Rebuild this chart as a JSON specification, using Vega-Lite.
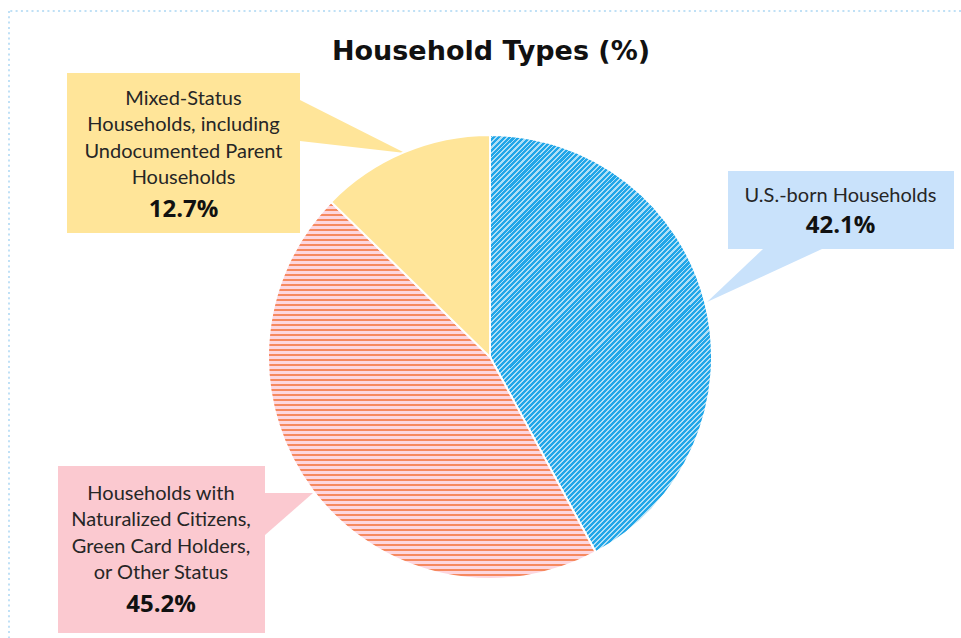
{
  "$schema": "https://vega.github.io/schema/vega-lite/v6.json",
  "width": 952,
  "height": 627,
  "autosize": {"type": "none"},
  "padding": {"left": 9, "top": 11, "right": 0, "bottom": 0},
  "background": "white",
  "title": {"text": "Household Types (%)", "font": "DejaVu Sans", "fontSize": 27, "fontWeight": "bold", "color": "#111111", "anchor": "middle", "frame": "group", "offset": -77, "baseline": "alphabetic", "dx": 6},
  "config": {"view": {"stroke": null}},
  "datasets": {
    "slices": [
      {"type": "U.S.-born Households", "order": 1, "pct": 42.1},
      {"type": "Households with Naturalized Citizens, Green Card Holders, or Other Status", "order": 2, "pct": 45.2},
      {"type": "Mixed-Status Households, including Undocumented Parent Households", "order": 3, "pct": 12.7}
    ],
    "boxes": [
      {"part": "us", "x": 238, "x2": 464, "y": 186, "y2": 108},
      {"part": "mixed", "x": -423, "x2": -190, "y": 284, "y2": 124},
      {"part": "nat", "x": -432, "x2": -225, "y": -109, "y2": -276}
    ],
    "pointers": [
      {"part": "us", "x": 217, "y": 55, "y2": 55},
      {"part": "us", "x": 273, "y": 108, "y2": 80.8},
      {"part": "us", "x": 332, "y": 108, "y2": 108},
      {"part": "mixed", "x": -190, "y": 257, "y2": 216},
      {"part": "mixed", "x": -85, "y": 204, "y2": 204},
      {"part": "nat", "x": -225, "y": -136, "y2": -178},
      {"part": "nat", "x": -177, "y": -136, "y2": -136}
    ],
    "labels": [
      {"text": "U.S.-born Households", "x": 350.5, "y": 155},
      {"text": "Mixed-Status\nHouseholds, including\nUndocumented Parent\nHouseholds", "x": -306.5, "y": 252},
      {"text": "Households with\nNaturalized Citizens,\nGreen Card Holders,\nor Other Status", "x": -329, "y": -143}
    ],
    "pcts": [
      {"text": "42.1%", "x": 350.5, "y": 124},
      {"text": "12.7%", "x": -306.5, "y": 140},
      {"text": "45.2%", "x": -329, "y": -255}
    ]
  },
  "layer": [
    {
      "data": {"values": [{}]},
      "mark": {"type": "rule", "stroke": "#bfe0f6", "strokeWidth": 2, "strokeDash": [2, 3.3]},
      "encoding": {"x": {"datum": -481, "type": "quantitative", "scale": {"domain": [-481, 471], "nice": false, "zero": false}, "axis": null}}
    },
    {
      "data": {"values": [{}]},
      "mark": {"type": "rule", "stroke": "#bfe0f6", "strokeWidth": 2, "strokeDash": [2, 3.3]},
      "encoding": {"y": {"datum": 346, "type": "quantitative", "scale": {"domain": [-281, 346], "nice": false, "zero": false}, "axis": null}}
    },
    {
      "data": {"name": "boxes"},
      "mark": {"type": "rect"},
      "encoding": {
        "x": {"field": "x", "type": "quantitative", "scale": {"domain": [-481, 471], "nice": false, "zero": false}, "axis": null},
        "x2": {"field": "x2"},
        "y": {"field": "y", "type": "quantitative", "scale": {"domain": [-281, 346], "nice": false, "zero": false}, "axis": null},
        "y2": {"field": "y2"},
        "color": {"field": "part", "type": "nominal", "scale": {"domain": ["us", "mixed", "nat"], "range": ["#c9e2fb", "#ffe599", "#fbc9d0"]}, "legend": null}
      }
    },
    {
      "data": {"name": "pointers"},
      "mark": {"type": "area", "orient": "vertical", "interpolate": "linear"},
      "encoding": {
        "x": {"field": "x", "type": "quantitative", "axis": null},
        "y": {"field": "y", "type": "quantitative", "stack": null, "axis": null},
        "y2": {"field": "y2"},
        "color": {"field": "part", "type": "nominal", "legend": null}
      }
    },
    {
      "data": {"name": "slices"},
      "transform": [
        {"stack": "pct", "groupby": [], "sort": [{"field": "order", "order": "ascending"}], "as": ["start", "end"]},
        {"filter": "datum.order == 1"}
      ],
      "mark": {"type": "arc", "outerRadius": 222, "stroke": "white", "strokeWidth": 2,
        "fill": {"gradient": "linear", "x1": 0, "y1": 0, "x2": 0.6353, "y2": 1.1941, "stops": [
{"offset":0,"color":"#afdff6"},
{"offset":0.0000,"color":"#21a6e8"},{"offset":0.0047,"color":"#21a6e8"},{"offset":0.0047,"color":"#afdff6"},
{"offset":0.0078,"color":"#afdff6"},{"offset":0.0078,"color":"#21a6e8"},{"offset":0.0125,"color":"#21a6e8"},{"offset":0.0125,"color":"#afdff6"},
{"offset":0.0156,"color":"#afdff6"},{"offset":0.0156,"color":"#21a6e8"},{"offset":0.0203,"color":"#21a6e8"},{"offset":0.0203,"color":"#afdff6"},
{"offset":0.0235,"color":"#afdff6"},{"offset":0.0235,"color":"#21a6e8"},{"offset":0.0282,"color":"#21a6e8"},{"offset":0.0282,"color":"#afdff6"},
{"offset":0.0313,"color":"#afdff6"},{"offset":0.0313,"color":"#21a6e8"},{"offset":0.0360,"color":"#21a6e8"},{"offset":0.0360,"color":"#afdff6"},
{"offset":0.0391,"color":"#afdff6"},{"offset":0.0391,"color":"#21a6e8"},{"offset":0.0438,"color":"#21a6e8"},{"offset":0.0438,"color":"#afdff6"},
{"offset":0.0469,"color":"#afdff6"},{"offset":0.0469,"color":"#21a6e8"},{"offset":0.0516,"color":"#21a6e8"},{"offset":0.0516,"color":"#afdff6"},
{"offset":0.0547,"color":"#afdff6"},{"offset":0.0547,"color":"#21a6e8"},{"offset":0.0594,"color":"#21a6e8"},{"offset":0.0594,"color":"#afdff6"},
{"offset":0.0626,"color":"#afdff6"},{"offset":0.0626,"color":"#21a6e8"},{"offset":0.0673,"color":"#21a6e8"},{"offset":0.0673,"color":"#afdff6"},
{"offset":0.0704,"color":"#afdff6"},{"offset":0.0704,"color":"#21a6e8"},{"offset":0.0751,"color":"#21a6e8"},{"offset":0.0751,"color":"#afdff6"},
{"offset":0.0782,"color":"#afdff6"},{"offset":0.0782,"color":"#21a6e8"},{"offset":0.0829,"color":"#21a6e8"},{"offset":0.0829,"color":"#afdff6"},
{"offset":0.0860,"color":"#afdff6"},{"offset":0.0860,"color":"#21a6e8"},{"offset":0.0907,"color":"#21a6e8"},{"offset":0.0907,"color":"#afdff6"},
{"offset":0.0939,"color":"#afdff6"},{"offset":0.0939,"color":"#21a6e8"},{"offset":0.0986,"color":"#21a6e8"},{"offset":0.0986,"color":"#afdff6"},
{"offset":0.1017,"color":"#afdff6"},{"offset":0.1017,"color":"#21a6e8"},{"offset":0.1064,"color":"#21a6e8"},{"offset":0.1064,"color":"#afdff6"},
{"offset":0.1095,"color":"#afdff6"},{"offset":0.1095,"color":"#21a6e8"},{"offset":0.1142,"color":"#21a6e8"},{"offset":0.1142,"color":"#afdff6"},
{"offset":0.1173,"color":"#afdff6"},{"offset":0.1173,"color":"#21a6e8"},{"offset":0.1220,"color":"#21a6e8"},{"offset":0.1220,"color":"#afdff6"},
{"offset":0.1251,"color":"#afdff6"},{"offset":0.1251,"color":"#21a6e8"},{"offset":0.1298,"color":"#21a6e8"},{"offset":0.1298,"color":"#afdff6"},
{"offset":0.1330,"color":"#afdff6"},{"offset":0.1330,"color":"#21a6e8"},{"offset":0.1377,"color":"#21a6e8"},{"offset":0.1377,"color":"#afdff6"},
{"offset":0.1408,"color":"#afdff6"},{"offset":0.1408,"color":"#21a6e8"},{"offset":0.1455,"color":"#21a6e8"},{"offset":0.1455,"color":"#afdff6"},
{"offset":0.1486,"color":"#afdff6"},{"offset":0.1486,"color":"#21a6e8"},{"offset":0.1533,"color":"#21a6e8"},{"offset":0.1533,"color":"#afdff6"},
{"offset":0.1564,"color":"#afdff6"},{"offset":0.1564,"color":"#21a6e8"},{"offset":0.1611,"color":"#21a6e8"},{"offset":0.1611,"color":"#afdff6"},
{"offset":0.1642,"color":"#afdff6"},{"offset":0.1642,"color":"#21a6e8"},{"offset":0.1689,"color":"#21a6e8"},{"offset":0.1689,"color":"#afdff6"},
{"offset":0.1721,"color":"#afdff6"},{"offset":0.1721,"color":"#21a6e8"},{"offset":0.1768,"color":"#21a6e8"},{"offset":0.1768,"color":"#afdff6"},
{"offset":0.1799,"color":"#afdff6"},{"offset":0.1799,"color":"#21a6e8"},{"offset":0.1846,"color":"#21a6e8"},{"offset":0.1846,"color":"#afdff6"},
{"offset":0.1877,"color":"#afdff6"},{"offset":0.1877,"color":"#21a6e8"},{"offset":0.1924,"color":"#21a6e8"},{"offset":0.1924,"color":"#afdff6"},
{"offset":0.1955,"color":"#afdff6"},{"offset":0.1955,"color":"#21a6e8"},{"offset":0.2002,"color":"#21a6e8"},{"offset":0.2002,"color":"#afdff6"},
{"offset":0.2033,"color":"#afdff6"},{"offset":0.2033,"color":"#21a6e8"},{"offset":0.2080,"color":"#21a6e8"},{"offset":0.2080,"color":"#afdff6"},
{"offset":0.2112,"color":"#afdff6"},{"offset":0.2112,"color":"#21a6e8"},{"offset":0.2159,"color":"#21a6e8"},{"offset":0.2159,"color":"#afdff6"},
{"offset":0.2190,"color":"#afdff6"},{"offset":0.2190,"color":"#21a6e8"},{"offset":0.2237,"color":"#21a6e8"},{"offset":0.2237,"color":"#afdff6"},
{"offset":0.2268,"color":"#afdff6"},{"offset":0.2268,"color":"#21a6e8"},{"offset":0.2315,"color":"#21a6e8"},{"offset":0.2315,"color":"#afdff6"},
{"offset":0.2346,"color":"#afdff6"},{"offset":0.2346,"color":"#21a6e8"},{"offset":0.2393,"color":"#21a6e8"},{"offset":0.2393,"color":"#afdff6"},
{"offset":0.2425,"color":"#afdff6"},{"offset":0.2425,"color":"#21a6e8"},{"offset":0.2472,"color":"#21a6e8"},{"offset":0.2472,"color":"#afdff6"},
{"offset":0.2503,"color":"#afdff6"},{"offset":0.2503,"color":"#21a6e8"},{"offset":0.2550,"color":"#21a6e8"},{"offset":0.2550,"color":"#afdff6"},
{"offset":0.2581,"color":"#afdff6"},{"offset":0.2581,"color":"#21a6e8"},{"offset":0.2628,"color":"#21a6e8"},{"offset":0.2628,"color":"#afdff6"},
{"offset":0.2659,"color":"#afdff6"},{"offset":0.2659,"color":"#21a6e8"},{"offset":0.2706,"color":"#21a6e8"},{"offset":0.2706,"color":"#afdff6"},
{"offset":0.2737,"color":"#afdff6"},{"offset":0.2737,"color":"#21a6e8"},{"offset":0.2784,"color":"#21a6e8"},{"offset":0.2784,"color":"#afdff6"},
{"offset":0.2816,"color":"#afdff6"},{"offset":0.2816,"color":"#21a6e8"},{"offset":0.2863,"color":"#21a6e8"},{"offset":0.2863,"color":"#afdff6"},
{"offset":0.2894,"color":"#afdff6"},{"offset":0.2894,"color":"#21a6e8"},{"offset":0.2941,"color":"#21a6e8"},{"offset":0.2941,"color":"#afdff6"},
{"offset":0.2972,"color":"#afdff6"},{"offset":0.2972,"color":"#21a6e8"},{"offset":0.3019,"color":"#21a6e8"},{"offset":0.3019,"color":"#afdff6"},
{"offset":0.3050,"color":"#afdff6"},{"offset":0.3050,"color":"#21a6e8"},{"offset":0.3097,"color":"#21a6e8"},{"offset":0.3097,"color":"#afdff6"},
{"offset":0.3128,"color":"#afdff6"},{"offset":0.3128,"color":"#21a6e8"},{"offset":0.3175,"color":"#21a6e8"},{"offset":0.3175,"color":"#afdff6"},
{"offset":0.3207,"color":"#afdff6"},{"offset":0.3207,"color":"#21a6e8"},{"offset":0.3254,"color":"#21a6e8"},{"offset":0.3254,"color":"#afdff6"},
{"offset":0.3285,"color":"#afdff6"},{"offset":0.3285,"color":"#21a6e8"},{"offset":0.3332,"color":"#21a6e8"},{"offset":0.3332,"color":"#afdff6"},
{"offset":0.3363,"color":"#afdff6"},{"offset":0.3363,"color":"#21a6e8"},{"offset":0.3410,"color":"#21a6e8"},{"offset":0.3410,"color":"#afdff6"},
{"offset":0.3441,"color":"#afdff6"},{"offset":0.3441,"color":"#21a6e8"},{"offset":0.3488,"color":"#21a6e8"},{"offset":0.3488,"color":"#afdff6"},
{"offset":0.3519,"color":"#afdff6"},{"offset":0.3519,"color":"#21a6e8"},{"offset":0.3566,"color":"#21a6e8"},{"offset":0.3566,"color":"#afdff6"},
{"offset":0.3598,"color":"#afdff6"},{"offset":0.3598,"color":"#21a6e8"},{"offset":0.3645,"color":"#21a6e8"},{"offset":0.3645,"color":"#afdff6"},
{"offset":0.3676,"color":"#afdff6"},{"offset":0.3676,"color":"#21a6e8"},{"offset":0.3723,"color":"#21a6e8"},{"offset":0.3723,"color":"#afdff6"},
{"offset":0.3754,"color":"#afdff6"},{"offset":0.3754,"color":"#21a6e8"},{"offset":0.3801,"color":"#21a6e8"},{"offset":0.3801,"color":"#afdff6"},
{"offset":0.3832,"color":"#afdff6"},{"offset":0.3832,"color":"#21a6e8"},{"offset":0.3879,"color":"#21a6e8"},{"offset":0.3879,"color":"#afdff6"},
{"offset":0.3911,"color":"#afdff6"},{"offset":0.3911,"color":"#21a6e8"},{"offset":0.3958,"color":"#21a6e8"},{"offset":0.3958,"color":"#afdff6"},
{"offset":0.3989,"color":"#afdff6"},{"offset":0.3989,"color":"#21a6e8"},{"offset":0.4036,"color":"#21a6e8"},{"offset":0.4036,"color":"#afdff6"},
{"offset":0.4067,"color":"#afdff6"},{"offset":0.4067,"color":"#21a6e8"},{"offset":0.4114,"color":"#21a6e8"},{"offset":0.4114,"color":"#afdff6"},
{"offset":0.4145,"color":"#afdff6"},{"offset":0.4145,"color":"#21a6e8"},{"offset":0.4192,"color":"#21a6e8"},{"offset":0.4192,"color":"#afdff6"},
{"offset":0.4223,"color":"#afdff6"},{"offset":0.4223,"color":"#21a6e8"},{"offset":0.4270,"color":"#21a6e8"},{"offset":0.4270,"color":"#afdff6"},
{"offset":0.4302,"color":"#afdff6"},{"offset":0.4302,"color":"#21a6e8"},{"offset":0.4349,"color":"#21a6e8"},{"offset":0.4349,"color":"#afdff6"},
{"offset":0.4380,"color":"#afdff6"},{"offset":0.4380,"color":"#21a6e8"},{"offset":0.4427,"color":"#21a6e8"},{"offset":0.4427,"color":"#afdff6"},
{"offset":0.4458,"color":"#afdff6"},{"offset":0.4458,"color":"#21a6e8"},{"offset":0.4505,"color":"#21a6e8"},{"offset":0.4505,"color":"#afdff6"},
{"offset":0.4536,"color":"#afdff6"},{"offset":0.4536,"color":"#21a6e8"},{"offset":0.4583,"color":"#21a6e8"},{"offset":0.4583,"color":"#afdff6"},
{"offset":0.4614,"color":"#afdff6"},{"offset":0.4614,"color":"#21a6e8"},{"offset":0.4661,"color":"#21a6e8"},{"offset":0.4661,"color":"#afdff6"},
{"offset":0.4693,"color":"#afdff6"},{"offset":0.4693,"color":"#21a6e8"},{"offset":0.4740,"color":"#21a6e8"},{"offset":0.4740,"color":"#afdff6"},
{"offset":0.4771,"color":"#afdff6"},{"offset":0.4771,"color":"#21a6e8"},{"offset":0.4818,"color":"#21a6e8"},{"offset":0.4818,"color":"#afdff6"},
{"offset":0.4849,"color":"#afdff6"},{"offset":0.4849,"color":"#21a6e8"},{"offset":0.4896,"color":"#21a6e8"},{"offset":0.4896,"color":"#afdff6"},
{"offset":0.4927,"color":"#afdff6"},{"offset":0.4927,"color":"#21a6e8"},{"offset":0.4974,"color":"#21a6e8"},{"offset":0.4974,"color":"#afdff6"},
{"offset":0.5006,"color":"#afdff6"},{"offset":0.5006,"color":"#21a6e8"},{"offset":0.5053,"color":"#21a6e8"},{"offset":0.5053,"color":"#afdff6"},
{"offset":0.5084,"color":"#afdff6"},{"offset":0.5084,"color":"#21a6e8"},{"offset":0.5131,"color":"#21a6e8"},{"offset":0.5131,"color":"#afdff6"},
{"offset":0.5162,"color":"#afdff6"},{"offset":0.5162,"color":"#21a6e8"},{"offset":0.5209,"color":"#21a6e8"},{"offset":0.5209,"color":"#afdff6"},
{"offset":0.5240,"color":"#afdff6"},{"offset":0.5240,"color":"#21a6e8"},{"offset":0.5287,"color":"#21a6e8"},{"offset":0.5287,"color":"#afdff6"},
{"offset":0.5318,"color":"#afdff6"},{"offset":0.5318,"color":"#21a6e8"},{"offset":0.5365,"color":"#21a6e8"},{"offset":0.5365,"color":"#afdff6"},
{"offset":0.5397,"color":"#afdff6"},{"offset":0.5397,"color":"#21a6e8"},{"offset":0.5444,"color":"#21a6e8"},{"offset":0.5444,"color":"#afdff6"},
{"offset":0.5475,"color":"#afdff6"},{"offset":0.5475,"color":"#21a6e8"},{"offset":0.5522,"color":"#21a6e8"},{"offset":0.5522,"color":"#afdff6"},
{"offset":0.5553,"color":"#afdff6"},{"offset":0.5553,"color":"#21a6e8"},{"offset":0.5600,"color":"#21a6e8"},{"offset":0.5600,"color":"#afdff6"},
{"offset":0.5631,"color":"#afdff6"},{"offset":0.5631,"color":"#21a6e8"},{"offset":0.5678,"color":"#21a6e8"},{"offset":0.5678,"color":"#afdff6"},
{"offset":0.5709,"color":"#afdff6"},{"offset":0.5709,"color":"#21a6e8"},{"offset":0.5756,"color":"#21a6e8"},{"offset":0.5756,"color":"#afdff6"},
{"offset":0.5788,"color":"#afdff6"},{"offset":0.5788,"color":"#21a6e8"},{"offset":0.5835,"color":"#21a6e8"},{"offset":0.5835,"color":"#afdff6"},
{"offset":0.5866,"color":"#afdff6"},{"offset":0.5866,"color":"#21a6e8"},{"offset":0.5913,"color":"#21a6e8"},{"offset":0.5913,"color":"#afdff6"},
{"offset":0.5944,"color":"#afdff6"},{"offset":0.5944,"color":"#21a6e8"},{"offset":0.5991,"color":"#21a6e8"},{"offset":0.5991,"color":"#afdff6"},
{"offset":0.6022,"color":"#afdff6"},{"offset":0.6022,"color":"#21a6e8"},{"offset":0.6069,"color":"#21a6e8"},{"offset":0.6069,"color":"#afdff6"},
{"offset":0.6100,"color":"#afdff6"},{"offset":0.6100,"color":"#21a6e8"},{"offset":0.6147,"color":"#21a6e8"},{"offset":0.6147,"color":"#afdff6"},
{"offset":0.6179,"color":"#afdff6"},{"offset":0.6179,"color":"#21a6e8"},{"offset":0.6226,"color":"#21a6e8"},{"offset":0.6226,"color":"#afdff6"},
{"offset":0.6257,"color":"#afdff6"},{"offset":0.6257,"color":"#21a6e8"},{"offset":0.6304,"color":"#21a6e8"},{"offset":0.6304,"color":"#afdff6"},
{"offset":0.6335,"color":"#afdff6"},{"offset":0.6335,"color":"#21a6e8"},{"offset":0.6382,"color":"#21a6e8"},{"offset":0.6382,"color":"#afdff6"},
{"offset":0.6413,"color":"#afdff6"},{"offset":0.6413,"color":"#21a6e8"},{"offset":0.6460,"color":"#21a6e8"},{"offset":0.6460,"color":"#afdff6"},
{"offset":0.6492,"color":"#afdff6"},{"offset":0.6492,"color":"#21a6e8"},{"offset":0.6539,"color":"#21a6e8"},{"offset":0.6539,"color":"#afdff6"},
{"offset":0.6570,"color":"#afdff6"},{"offset":0.6570,"color":"#21a6e8"},{"offset":0.6617,"color":"#21a6e8"},{"offset":0.6617,"color":"#afdff6"},
{"offset":0.6648,"color":"#afdff6"},{"offset":0.6648,"color":"#21a6e8"},{"offset":0.6695,"color":"#21a6e8"},{"offset":0.6695,"color":"#afdff6"},
{"offset":0.6726,"color":"#afdff6"},{"offset":0.6726,"color":"#21a6e8"},{"offset":0.6773,"color":"#21a6e8"},{"offset":0.6773,"color":"#afdff6"},
{"offset":0.6804,"color":"#afdff6"},{"offset":0.6804,"color":"#21a6e8"},{"offset":0.6851,"color":"#21a6e8"},{"offset":0.6851,"color":"#afdff6"},
{"offset":0.6883,"color":"#afdff6"},{"offset":0.6883,"color":"#21a6e8"},{"offset":0.6930,"color":"#21a6e8"},{"offset":0.6930,"color":"#afdff6"},
{"offset":0.6961,"color":"#afdff6"},{"offset":0.6961,"color":"#21a6e8"},{"offset":0.7008,"color":"#21a6e8"},{"offset":0.7008,"color":"#afdff6"},
{"offset":0.7039,"color":"#afdff6"},{"offset":0.7039,"color":"#21a6e8"},{"offset":0.7086,"color":"#21a6e8"},{"offset":0.7086,"color":"#afdff6"},
{"offset":0.7117,"color":"#afdff6"},{"offset":0.7117,"color":"#21a6e8"},{"offset":0.7164,"color":"#21a6e8"},{"offset":0.7164,"color":"#afdff6"},
{"offset":0.7195,"color":"#afdff6"},{"offset":0.7195,"color":"#21a6e8"},{"offset":0.7242,"color":"#21a6e8"},{"offset":0.7242,"color":"#afdff6"},
{"offset":0.7274,"color":"#afdff6"},{"offset":0.7274,"color":"#21a6e8"},{"offset":0.7321,"color":"#21a6e8"},{"offset":0.7321,"color":"#afdff6"},
{"offset":0.7352,"color":"#afdff6"},{"offset":0.7352,"color":"#21a6e8"},{"offset":0.7399,"color":"#21a6e8"},{"offset":0.7399,"color":"#afdff6"},
{"offset":0.7430,"color":"#afdff6"},{"offset":0.7430,"color":"#21a6e8"},{"offset":0.7477,"color":"#21a6e8"},{"offset":0.7477,"color":"#afdff6"},
{"offset":0.7508,"color":"#afdff6"},{"offset":0.7508,"color":"#21a6e8"},{"offset":0.7555,"color":"#21a6e8"},{"offset":0.7555,"color":"#afdff6"},
{"offset":0.7586,"color":"#afdff6"},{"offset":0.7586,"color":"#21a6e8"},{"offset":0.7633,"color":"#21a6e8"},{"offset":0.7633,"color":"#afdff6"},
{"offset":0.7665,"color":"#afdff6"},{"offset":0.7665,"color":"#21a6e8"},{"offset":0.7712,"color":"#21a6e8"},{"offset":0.7712,"color":"#afdff6"},
{"offset":0.7743,"color":"#afdff6"},{"offset":0.7743,"color":"#21a6e8"},{"offset":0.7790,"color":"#21a6e8"},{"offset":0.7790,"color":"#afdff6"},
{"offset":0.7821,"color":"#afdff6"},{"offset":0.7821,"color":"#21a6e8"},{"offset":0.7868,"color":"#21a6e8"},{"offset":0.7868,"color":"#afdff6"},
{"offset":0.7899,"color":"#afdff6"},{"offset":0.7899,"color":"#21a6e8"},{"offset":0.7946,"color":"#21a6e8"},{"offset":0.7946,"color":"#afdff6"},
{"offset":0.7978,"color":"#afdff6"},{"offset":0.7978,"color":"#21a6e8"},{"offset":0.8025,"color":"#21a6e8"},{"offset":0.8025,"color":"#afdff6"},
{"offset":0.8056,"color":"#afdff6"},{"offset":0.8056,"color":"#21a6e8"},{"offset":0.8103,"color":"#21a6e8"},{"offset":0.8103,"color":"#afdff6"},
{"offset":0.8134,"color":"#afdff6"},{"offset":0.8134,"color":"#21a6e8"},{"offset":0.8181,"color":"#21a6e8"},{"offset":0.8181,"color":"#afdff6"},
{"offset":0.8212,"color":"#afdff6"},{"offset":0.8212,"color":"#21a6e8"},{"offset":0.8259,"color":"#21a6e8"},{"offset":0.8259,"color":"#afdff6"},
{"offset":0.8290,"color":"#afdff6"},{"offset":0.8290,"color":"#21a6e8"},{"offset":0.8337,"color":"#21a6e8"},{"offset":0.8337,"color":"#afdff6"},
{"offset":0.8369,"color":"#afdff6"},{"offset":0.8369,"color":"#21a6e8"},{"offset":0.8416,"color":"#21a6e8"},{"offset":0.8416,"color":"#afdff6"},
{"offset":0.8447,"color":"#afdff6"},{"offset":0.8447,"color":"#21a6e8"},{"offset":0.8494,"color":"#21a6e8"},{"offset":0.8494,"color":"#afdff6"},
{"offset":0.8525,"color":"#afdff6"},{"offset":0.8525,"color":"#21a6e8"},{"offset":0.8572,"color":"#21a6e8"},{"offset":0.8572,"color":"#afdff6"},
{"offset":0.8603,"color":"#afdff6"},{"offset":0.8603,"color":"#21a6e8"},{"offset":0.8650,"color":"#21a6e8"},{"offset":0.8650,"color":"#afdff6"},
{"offset":0.8681,"color":"#afdff6"},{"offset":0.8681,"color":"#21a6e8"},{"offset":0.8728,"color":"#21a6e8"},{"offset":0.8728,"color":"#afdff6"},
{"offset":0.8760,"color":"#afdff6"},{"offset":0.8760,"color":"#21a6e8"},{"offset":0.8807,"color":"#21a6e8"},{"offset":0.8807,"color":"#afdff6"},
{"offset":0.8838,"color":"#afdff6"},{"offset":0.8838,"color":"#21a6e8"},{"offset":0.8885,"color":"#21a6e8"},{"offset":0.8885,"color":"#afdff6"},
{"offset":0.8916,"color":"#afdff6"},{"offset":0.8916,"color":"#21a6e8"},{"offset":0.8963,"color":"#21a6e8"},{"offset":0.8963,"color":"#afdff6"},
{"offset":0.8994,"color":"#afdff6"},{"offset":0.8994,"color":"#21a6e8"},{"offset":0.9041,"color":"#21a6e8"},{"offset":0.9041,"color":"#afdff6"},
{"offset":0.9072,"color":"#afdff6"},{"offset":0.9072,"color":"#21a6e8"},{"offset":0.9119,"color":"#21a6e8"},{"offset":0.9119,"color":"#afdff6"},
{"offset":0.9151,"color":"#afdff6"},{"offset":0.9151,"color":"#21a6e8"},{"offset":0.9198,"color":"#21a6e8"},{"offset":0.9198,"color":"#afdff6"},
{"offset":0.9229,"color":"#afdff6"},{"offset":0.9229,"color":"#21a6e8"},{"offset":0.9276,"color":"#21a6e8"},{"offset":0.9276,"color":"#afdff6"},
{"offset":0.9307,"color":"#afdff6"},{"offset":0.9307,"color":"#21a6e8"},{"offset":0.9354,"color":"#21a6e8"},{"offset":0.9354,"color":"#afdff6"},
{"offset":0.9385,"color":"#afdff6"},{"offset":0.9385,"color":"#21a6e8"},{"offset":0.9432,"color":"#21a6e8"},{"offset":0.9432,"color":"#afdff6"},
{"offset":0.9464,"color":"#afdff6"},{"offset":0.9464,"color":"#21a6e8"},{"offset":0.9511,"color":"#21a6e8"},{"offset":0.9511,"color":"#afdff6"},
{"offset":0.9542,"color":"#afdff6"},{"offset":0.9542,"color":"#21a6e8"},{"offset":0.9589,"color":"#21a6e8"},{"offset":0.9589,"color":"#afdff6"},
{"offset":0.9620,"color":"#afdff6"},{"offset":0.9620,"color":"#21a6e8"},{"offset":0.9667,"color":"#21a6e8"},{"offset":0.9667,"color":"#afdff6"},
{"offset":0.9698,"color":"#afdff6"},{"offset":0.9698,"color":"#21a6e8"},{"offset":0.9745,"color":"#21a6e8"},{"offset":0.9745,"color":"#afdff6"},
{"offset":0.9776,"color":"#afdff6"},{"offset":0.9776,"color":"#21a6e8"},{"offset":0.9823,"color":"#21a6e8"},{"offset":0.9823,"color":"#afdff6"},
{"offset":0.9855,"color":"#afdff6"},{"offset":0.9855,"color":"#21a6e8"},{"offset":0.9902,"color":"#21a6e8"},{"offset":0.9902,"color":"#afdff6"},
{"offset":0.9933,"color":"#afdff6"},{"offset":0.9933,"color":"#21a6e8"},{"offset":0.9980,"color":"#21a6e8"},{"offset":0.9980,"color":"#afdff6"},
{"offset":1,"color":"#afdff6"}
        ]}},
      "encoding": {
        "theta": {"field": "start", "type": "quantitative", "scale": {"domain": [0, 100]}},
        "theta2": {"field": "end"},
        "x": {"datum": 0, "type": "quantitative"},
        "y": {"datum": 0, "type": "quantitative"}
      }
    },
    {
      "data": {"name": "slices"},
      "transform": [
        {"stack": "pct", "groupby": [], "sort": [{"field": "order", "order": "ascending"}], "as": ["start", "end"]},
        {"filter": "datum.order == 2"}
      ],
      "mark": {"type": "arc", "outerRadius": 222, "stroke": "white", "strokeWidth": 2,
        "fill": {"gradient": "linear", "x1": 0, "y1": 0, "x2": 0, "y2": 1, "stops": [
{"offset":0,"color":"#fdd6de"},
{"offset":0.0061,"color":"#fdd6de"},{"offset":0.0061,"color":"#f6895f"},{"offset":0.0103,"color":"#f6895f"},{"offset":0.0103,"color":"#fdd6de"},
{"offset":0.0194,"color":"#fdd6de"},{"offset":0.0194,"color":"#f6895f"},{"offset":0.0236,"color":"#f6895f"},{"offset":0.0236,"color":"#fdd6de"},
{"offset":0.0326,"color":"#fdd6de"},{"offset":0.0326,"color":"#f6895f"},{"offset":0.0369,"color":"#f6895f"},{"offset":0.0369,"color":"#fdd6de"},
{"offset":0.0459,"color":"#fdd6de"},{"offset":0.0459,"color":"#f6895f"},{"offset":0.0501,"color":"#f6895f"},{"offset":0.0501,"color":"#fdd6de"},
{"offset":0.0592,"color":"#fdd6de"},{"offset":0.0592,"color":"#f6895f"},{"offset":0.0634,"color":"#f6895f"},{"offset":0.0634,"color":"#fdd6de"},
{"offset":0.0724,"color":"#fdd6de"},{"offset":0.0724,"color":"#f6895f"},{"offset":0.0767,"color":"#f6895f"},{"offset":0.0767,"color":"#fdd6de"},
{"offset":0.0857,"color":"#fdd6de"},{"offset":0.0857,"color":"#f6895f"},{"offset":0.0899,"color":"#f6895f"},{"offset":0.0899,"color":"#fdd6de"},
{"offset":0.0989,"color":"#fdd6de"},{"offset":0.0989,"color":"#f6895f"},{"offset":0.1032,"color":"#f6895f"},{"offset":0.1032,"color":"#fdd6de"},
{"offset":0.1122,"color":"#fdd6de"},{"offset":0.1122,"color":"#f6895f"},{"offset":0.1164,"color":"#f6895f"},{"offset":0.1164,"color":"#fdd6de"},
{"offset":0.1255,"color":"#fdd6de"},{"offset":0.1255,"color":"#f6895f"},{"offset":0.1297,"color":"#f6895f"},{"offset":0.1297,"color":"#fdd6de"},
{"offset":0.1387,"color":"#fdd6de"},{"offset":0.1387,"color":"#f6895f"},{"offset":0.1430,"color":"#f6895f"},{"offset":0.1430,"color":"#fdd6de"},
{"offset":0.1520,"color":"#fdd6de"},{"offset":0.1520,"color":"#f6895f"},{"offset":0.1562,"color":"#f6895f"},{"offset":0.1562,"color":"#fdd6de"},
{"offset":0.1653,"color":"#fdd6de"},{"offset":0.1653,"color":"#f6895f"},{"offset":0.1695,"color":"#f6895f"},{"offset":0.1695,"color":"#fdd6de"},
{"offset":0.1785,"color":"#fdd6de"},{"offset":0.1785,"color":"#f6895f"},{"offset":0.1827,"color":"#f6895f"},{"offset":0.1827,"color":"#fdd6de"},
{"offset":0.1918,"color":"#fdd6de"},{"offset":0.1918,"color":"#f6895f"},{"offset":0.1960,"color":"#f6895f"},{"offset":0.1960,"color":"#fdd6de"},
{"offset":0.2050,"color":"#fdd6de"},{"offset":0.2050,"color":"#f6895f"},{"offset":0.2093,"color":"#f6895f"},{"offset":0.2093,"color":"#fdd6de"},
{"offset":0.2183,"color":"#fdd6de"},{"offset":0.2183,"color":"#f6895f"},{"offset":0.2225,"color":"#f6895f"},{"offset":0.2225,"color":"#fdd6de"},
{"offset":0.2316,"color":"#fdd6de"},{"offset":0.2316,"color":"#f6895f"},{"offset":0.2358,"color":"#f6895f"},{"offset":0.2358,"color":"#fdd6de"},
{"offset":0.2448,"color":"#fdd6de"},{"offset":0.2448,"color":"#f6895f"},{"offset":0.2491,"color":"#f6895f"},{"offset":0.2491,"color":"#fdd6de"},
{"offset":0.2581,"color":"#fdd6de"},{"offset":0.2581,"color":"#f6895f"},{"offset":0.2623,"color":"#f6895f"},{"offset":0.2623,"color":"#fdd6de"},
{"offset":0.2714,"color":"#fdd6de"},{"offset":0.2714,"color":"#f6895f"},{"offset":0.2756,"color":"#f6895f"},{"offset":0.2756,"color":"#fdd6de"},
{"offset":0.2846,"color":"#fdd6de"},{"offset":0.2846,"color":"#f6895f"},{"offset":0.2888,"color":"#f6895f"},{"offset":0.2888,"color":"#fdd6de"},
{"offset":0.2979,"color":"#fdd6de"},{"offset":0.2979,"color":"#f6895f"},{"offset":0.3021,"color":"#f6895f"},{"offset":0.3021,"color":"#fdd6de"},
{"offset":0.3111,"color":"#fdd6de"},{"offset":0.3111,"color":"#f6895f"},{"offset":0.3154,"color":"#f6895f"},{"offset":0.3154,"color":"#fdd6de"},
{"offset":0.3244,"color":"#fdd6de"},{"offset":0.3244,"color":"#f6895f"},{"offset":0.3286,"color":"#f6895f"},{"offset":0.3286,"color":"#fdd6de"},
{"offset":0.3377,"color":"#fdd6de"},{"offset":0.3377,"color":"#f6895f"},{"offset":0.3419,"color":"#f6895f"},{"offset":0.3419,"color":"#fdd6de"},
{"offset":0.3509,"color":"#fdd6de"},{"offset":0.3509,"color":"#f6895f"},{"offset":0.3552,"color":"#f6895f"},{"offset":0.3552,"color":"#fdd6de"},
{"offset":0.3642,"color":"#fdd6de"},{"offset":0.3642,"color":"#f6895f"},{"offset":0.3684,"color":"#f6895f"},{"offset":0.3684,"color":"#fdd6de"},
{"offset":0.3775,"color":"#fdd6de"},{"offset":0.3775,"color":"#f6895f"},{"offset":0.3817,"color":"#f6895f"},{"offset":0.3817,"color":"#fdd6de"},
{"offset":0.3907,"color":"#fdd6de"},{"offset":0.3907,"color":"#f6895f"},{"offset":0.3949,"color":"#f6895f"},{"offset":0.3949,"color":"#fdd6de"},
{"offset":0.4040,"color":"#fdd6de"},{"offset":0.4040,"color":"#f6895f"},{"offset":0.4082,"color":"#f6895f"},{"offset":0.4082,"color":"#fdd6de"},
{"offset":0.4172,"color":"#fdd6de"},{"offset":0.4172,"color":"#f6895f"},{"offset":0.4215,"color":"#f6895f"},{"offset":0.4215,"color":"#fdd6de"},
{"offset":0.4305,"color":"#fdd6de"},{"offset":0.4305,"color":"#f6895f"},{"offset":0.4347,"color":"#f6895f"},{"offset":0.4347,"color":"#fdd6de"},
{"offset":0.4438,"color":"#fdd6de"},{"offset":0.4438,"color":"#f6895f"},{"offset":0.4480,"color":"#f6895f"},{"offset":0.4480,"color":"#fdd6de"},
{"offset":0.4570,"color":"#fdd6de"},{"offset":0.4570,"color":"#f6895f"},{"offset":0.4613,"color":"#f6895f"},{"offset":0.4613,"color":"#fdd6de"},
{"offset":0.4703,"color":"#fdd6de"},{"offset":0.4703,"color":"#f6895f"},{"offset":0.4745,"color":"#f6895f"},{"offset":0.4745,"color":"#fdd6de"},
{"offset":0.4836,"color":"#fdd6de"},{"offset":0.4836,"color":"#f6895f"},{"offset":0.4878,"color":"#f6895f"},{"offset":0.4878,"color":"#fdd6de"},
{"offset":0.4968,"color":"#fdd6de"},{"offset":0.4968,"color":"#f6895f"},{"offset":0.5010,"color":"#f6895f"},{"offset":0.5010,"color":"#fdd6de"},
{"offset":0.5101,"color":"#fdd6de"},{"offset":0.5101,"color":"#f6895f"},{"offset":0.5143,"color":"#f6895f"},{"offset":0.5143,"color":"#fdd6de"},
{"offset":0.5233,"color":"#fdd6de"},{"offset":0.5233,"color":"#f6895f"},{"offset":0.5276,"color":"#f6895f"},{"offset":0.5276,"color":"#fdd6de"},
{"offset":0.5366,"color":"#fdd6de"},{"offset":0.5366,"color":"#f6895f"},{"offset":0.5408,"color":"#f6895f"},{"offset":0.5408,"color":"#fdd6de"},
{"offset":0.5499,"color":"#fdd6de"},{"offset":0.5499,"color":"#f6895f"},{"offset":0.5541,"color":"#f6895f"},{"offset":0.5541,"color":"#fdd6de"},
{"offset":0.5631,"color":"#fdd6de"},{"offset":0.5631,"color":"#f6895f"},{"offset":0.5674,"color":"#f6895f"},{"offset":0.5674,"color":"#fdd6de"},
{"offset":0.5764,"color":"#fdd6de"},{"offset":0.5764,"color":"#f6895f"},{"offset":0.5806,"color":"#f6895f"},{"offset":0.5806,"color":"#fdd6de"},
{"offset":0.5897,"color":"#fdd6de"},{"offset":0.5897,"color":"#f6895f"},{"offset":0.5939,"color":"#f6895f"},{"offset":0.5939,"color":"#fdd6de"},
{"offset":0.6029,"color":"#fdd6de"},{"offset":0.6029,"color":"#f6895f"},{"offset":0.6071,"color":"#f6895f"},{"offset":0.6071,"color":"#fdd6de"},
{"offset":0.6162,"color":"#fdd6de"},{"offset":0.6162,"color":"#f6895f"},{"offset":0.6204,"color":"#f6895f"},{"offset":0.6204,"color":"#fdd6de"},
{"offset":0.6294,"color":"#fdd6de"},{"offset":0.6294,"color":"#f6895f"},{"offset":0.6337,"color":"#f6895f"},{"offset":0.6337,"color":"#fdd6de"},
{"offset":0.6427,"color":"#fdd6de"},{"offset":0.6427,"color":"#f6895f"},{"offset":0.6469,"color":"#f6895f"},{"offset":0.6469,"color":"#fdd6de"},
{"offset":0.6560,"color":"#fdd6de"},{"offset":0.6560,"color":"#f6895f"},{"offset":0.6602,"color":"#f6895f"},{"offset":0.6602,"color":"#fdd6de"},
{"offset":0.6692,"color":"#fdd6de"},{"offset":0.6692,"color":"#f6895f"},{"offset":0.6735,"color":"#f6895f"},{"offset":0.6735,"color":"#fdd6de"},
{"offset":0.6825,"color":"#fdd6de"},{"offset":0.6825,"color":"#f6895f"},{"offset":0.6867,"color":"#f6895f"},{"offset":0.6867,"color":"#fdd6de"},
{"offset":0.6958,"color":"#fdd6de"},{"offset":0.6958,"color":"#f6895f"},{"offset":0.7000,"color":"#f6895f"},{"offset":0.7000,"color":"#fdd6de"},
{"offset":0.7090,"color":"#fdd6de"},{"offset":0.7090,"color":"#f6895f"},{"offset":0.7132,"color":"#f6895f"},{"offset":0.7132,"color":"#fdd6de"},
{"offset":0.7223,"color":"#fdd6de"},{"offset":0.7223,"color":"#f6895f"},{"offset":0.7265,"color":"#f6895f"},{"offset":0.7265,"color":"#fdd6de"},
{"offset":0.7355,"color":"#fdd6de"},{"offset":0.7355,"color":"#f6895f"},{"offset":0.7398,"color":"#f6895f"},{"offset":0.7398,"color":"#fdd6de"},
{"offset":0.7488,"color":"#fdd6de"},{"offset":0.7488,"color":"#f6895f"},{"offset":0.7530,"color":"#f6895f"},{"offset":0.7530,"color":"#fdd6de"},
{"offset":0.7621,"color":"#fdd6de"},{"offset":0.7621,"color":"#f6895f"},{"offset":0.7663,"color":"#f6895f"},{"offset":0.7663,"color":"#fdd6de"},
{"offset":0.7753,"color":"#fdd6de"},{"offset":0.7753,"color":"#f6895f"},{"offset":0.7796,"color":"#f6895f"},{"offset":0.7796,"color":"#fdd6de"},
{"offset":0.7886,"color":"#fdd6de"},{"offset":0.7886,"color":"#f6895f"},{"offset":0.7928,"color":"#f6895f"},{"offset":0.7928,"color":"#fdd6de"},
{"offset":0.8019,"color":"#fdd6de"},{"offset":0.8019,"color":"#f6895f"},{"offset":0.8061,"color":"#f6895f"},{"offset":0.8061,"color":"#fdd6de"},
{"offset":0.8151,"color":"#fdd6de"},{"offset":0.8151,"color":"#f6895f"},{"offset":0.8193,"color":"#f6895f"},{"offset":0.8193,"color":"#fdd6de"},
{"offset":0.8284,"color":"#fdd6de"},{"offset":0.8284,"color":"#f6895f"},{"offset":0.8326,"color":"#f6895f"},{"offset":0.8326,"color":"#fdd6de"},
{"offset":0.8416,"color":"#fdd6de"},{"offset":0.8416,"color":"#f6895f"},{"offset":0.8459,"color":"#f6895f"},{"offset":0.8459,"color":"#fdd6de"},
{"offset":0.8549,"color":"#fdd6de"},{"offset":0.8549,"color":"#f6895f"},{"offset":0.8591,"color":"#f6895f"},{"offset":0.8591,"color":"#fdd6de"},
{"offset":0.8682,"color":"#fdd6de"},{"offset":0.8682,"color":"#f6895f"},{"offset":0.8724,"color":"#f6895f"},{"offset":0.8724,"color":"#fdd6de"},
{"offset":0.8814,"color":"#fdd6de"},{"offset":0.8814,"color":"#f6895f"},{"offset":0.8857,"color":"#f6895f"},{"offset":0.8857,"color":"#fdd6de"},
{"offset":0.8947,"color":"#fdd6de"},{"offset":0.8947,"color":"#f6895f"},{"offset":0.8989,"color":"#f6895f"},{"offset":0.8989,"color":"#fdd6de"},
{"offset":0.9080,"color":"#fdd6de"},{"offset":0.9080,"color":"#f6895f"},{"offset":0.9122,"color":"#f6895f"},{"offset":0.9122,"color":"#fdd6de"},
{"offset":0.9212,"color":"#fdd6de"},{"offset":0.9212,"color":"#f6895f"},{"offset":0.9254,"color":"#f6895f"},{"offset":0.9254,"color":"#fdd6de"},
{"offset":0.9345,"color":"#fdd6de"},{"offset":0.9345,"color":"#f6895f"},{"offset":0.9387,"color":"#f6895f"},{"offset":0.9387,"color":"#fdd6de"},
{"offset":0.9477,"color":"#fdd6de"},{"offset":0.9477,"color":"#f6895f"},{"offset":0.9520,"color":"#f6895f"},{"offset":0.9520,"color":"#fdd6de"},
{"offset":0.9610,"color":"#fdd6de"},{"offset":0.9610,"color":"#f6895f"},{"offset":0.9652,"color":"#f6895f"},{"offset":0.9652,"color":"#fdd6de"},
{"offset":0.9743,"color":"#fdd6de"},{"offset":0.9743,"color":"#f6895f"},{"offset":0.9785,"color":"#f6895f"},{"offset":0.9785,"color":"#fdd6de"},
{"offset":0.9875,"color":"#fdd6de"},{"offset":0.9875,"color":"#f6895f"},{"offset":0.9917,"color":"#f6895f"},{"offset":0.9917,"color":"#fdd6de"},
{"offset":1,"color":"#fdd6de"}
        ]}},
      "encoding": {
        "theta": {"field": "start", "type": "quantitative"},
        "theta2": {"field": "end"},
        "x": {"datum": 0, "type": "quantitative"},
        "y": {"datum": 0, "type": "quantitative"}
      }
    },
    {
      "data": {"name": "slices"},
      "transform": [
        {"stack": "pct", "groupby": [], "sort": [{"field": "order", "order": "ascending"}], "as": ["start", "end"]},
        {"filter": "datum.order == 3"}
      ],
      "mark": {"type": "arc", "outerRadius": 222, "fill": "#ffe599", "stroke": "white", "strokeWidth": 2},
      "encoding": {
        "theta": {"field": "start", "type": "quantitative"},
        "theta2": {"field": "end"},
        "x": {"datum": 0, "type": "quantitative"},
        "y": {"datum": 0, "type": "quantitative"}
      }
    },
    {
      "data": {"name": "labels"},
      "mark": {"type": "text", "lineBreak": "\n", "align": "center", "baseline": "alphabetic", "font": "Lato", "fontSize": 20, "lineHeight": 26.3, "fill": "#262626"},
      "encoding": {
        "x": {"field": "x", "type": "quantitative"},
        "y": {"field": "y", "type": "quantitative"},
        "text": {"field": "text", "type": "nominal"}
      }
    },
    {
      "data": {"name": "pcts"},
      "mark": {"type": "text", "align": "center", "baseline": "alphabetic", "font": "Open Sans", "fontSize": 24, "fontWeight": "bold", "fill": "#111111"},
      "encoding": {
        "x": {"field": "x", "type": "quantitative"},
        "y": {"field": "y", "type": "quantitative"},
        "text": {"field": "text", "type": "nominal"}
      }
    }
  ]
}
